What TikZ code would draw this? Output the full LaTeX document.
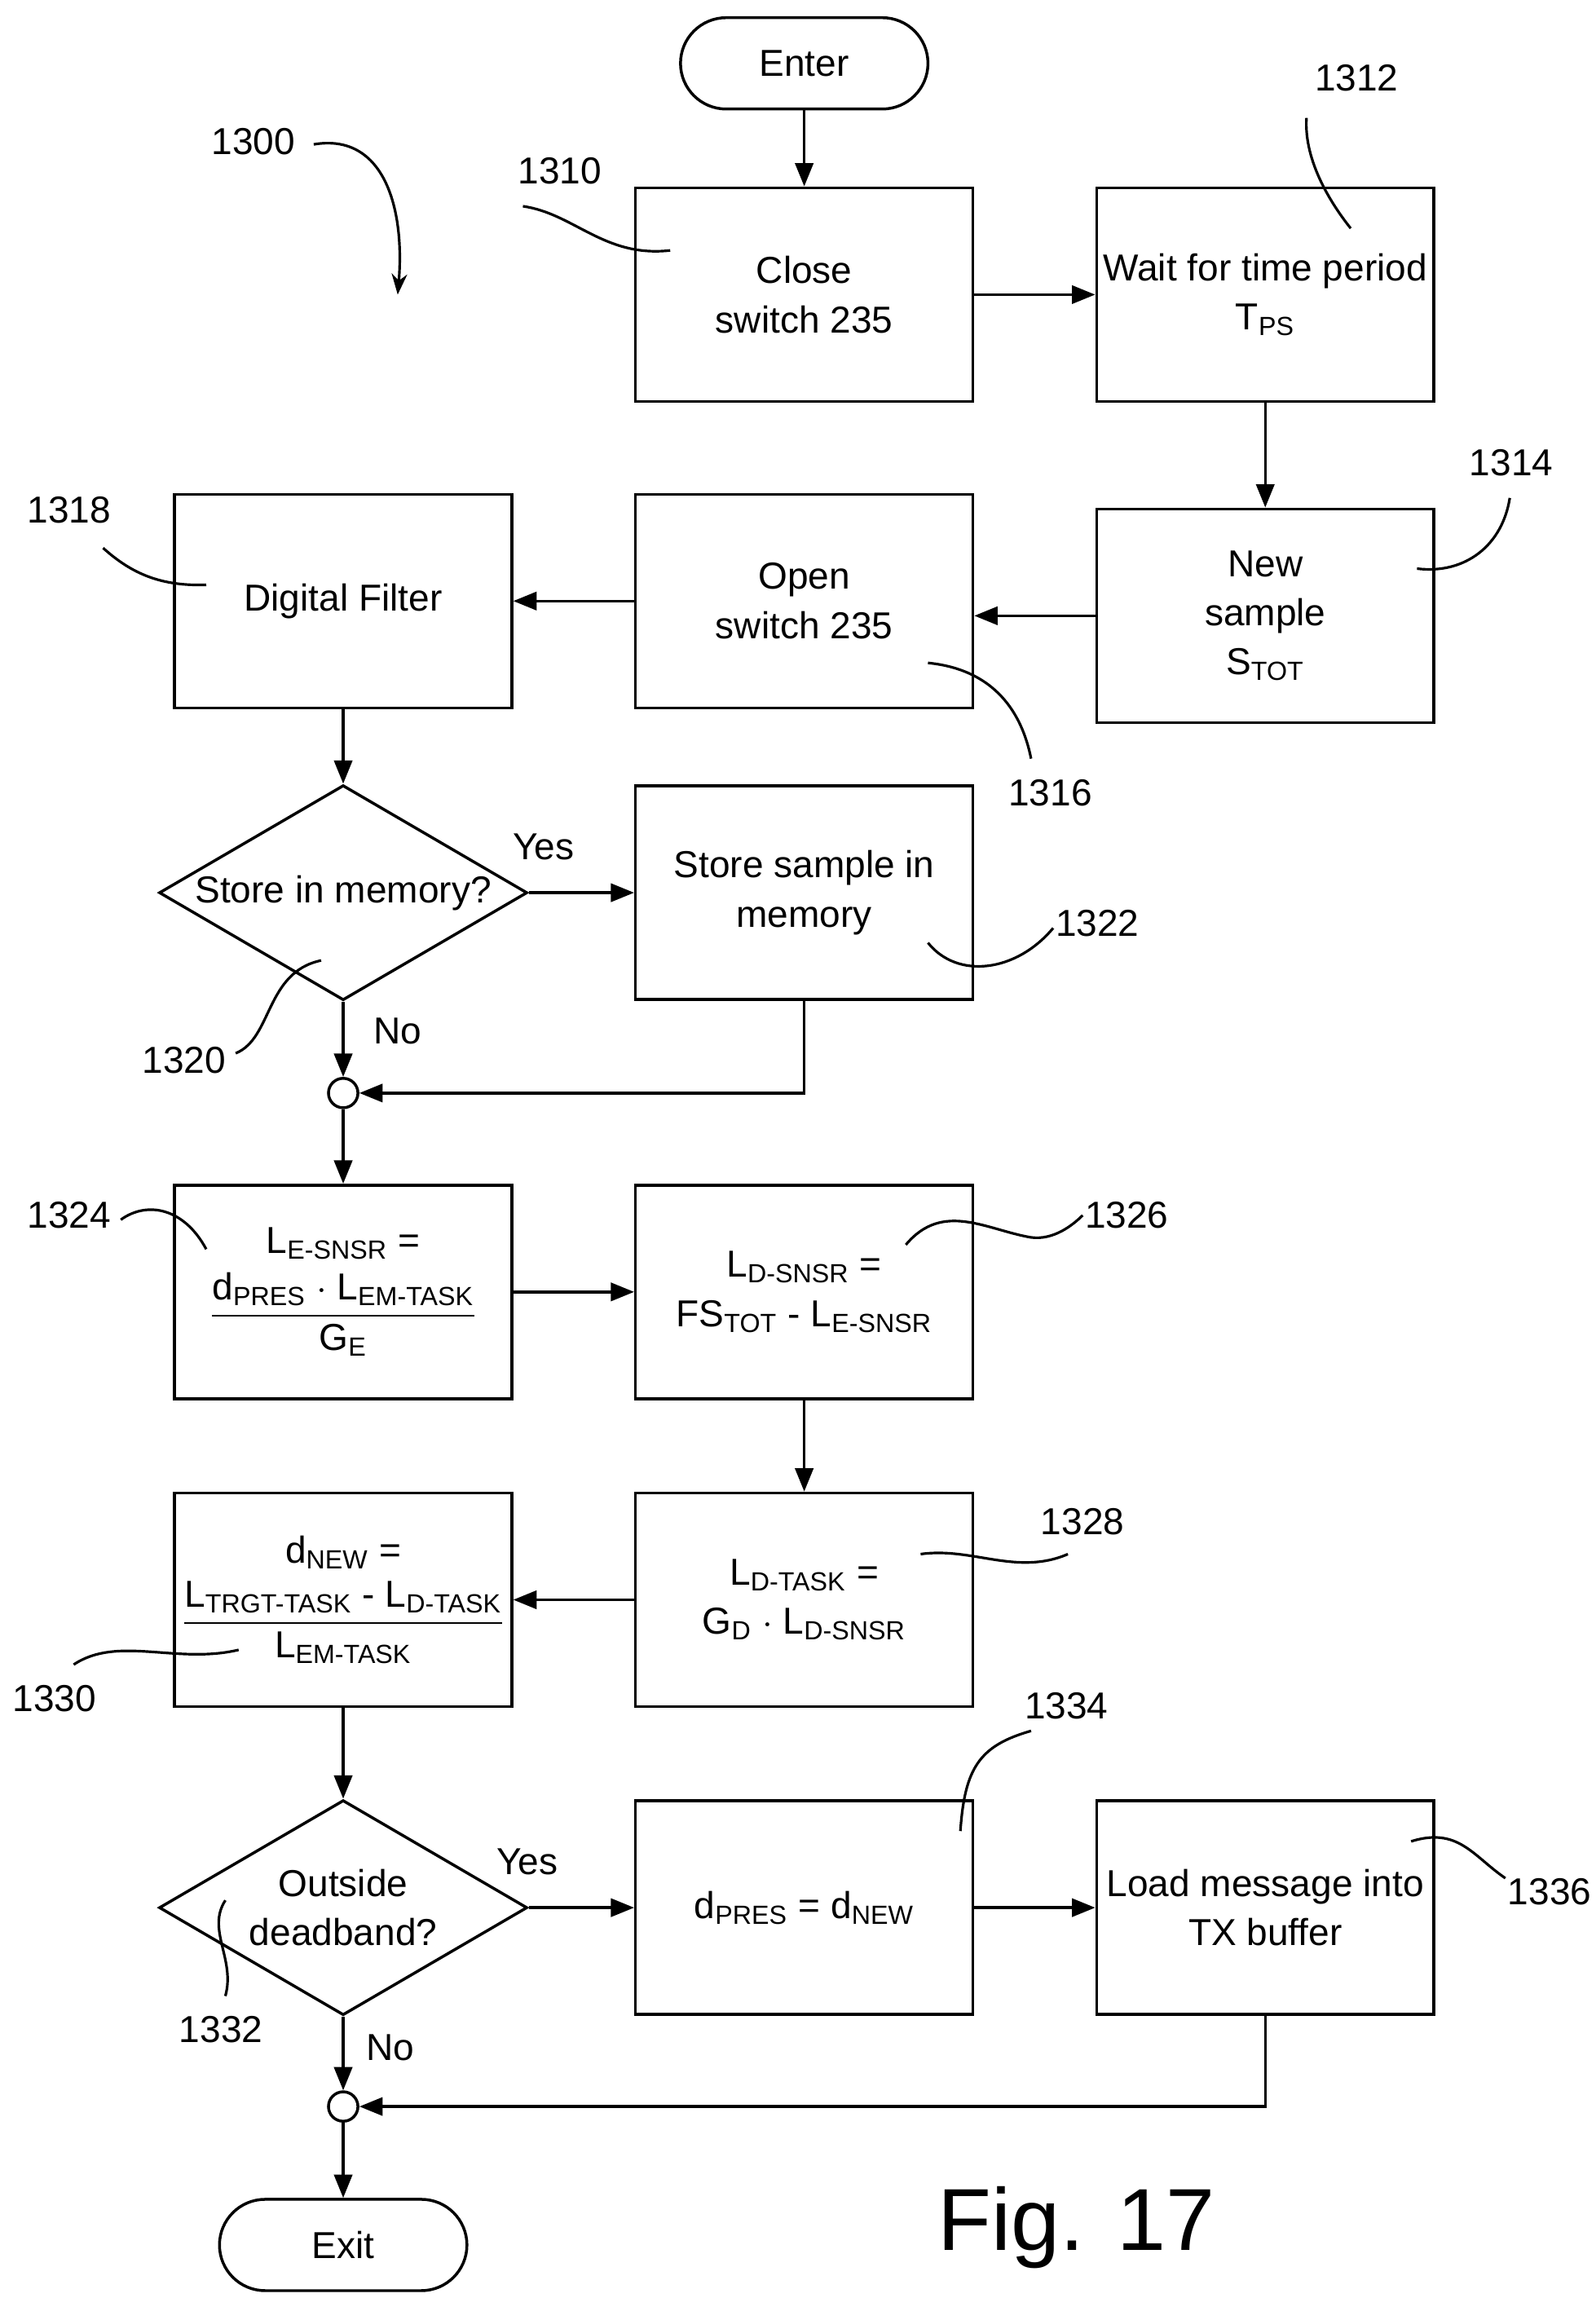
\documentclass[tikz,border=0pt]{standalone}
\usepackage{fontspec}
\usepackage{amsmath}
\setmainfont{Liberation Sans}
\usetikzlibrary{shapes.geometric,arrows.meta}
\begin{document}
\begin{tikzpicture}[x=0.02cm,y=-0.02cm,line width=1.1pt,
  font=\fontsize{14.5}{19}\selectfont,
  box/.style={draw,minimum width=229*0.02cm,minimum height=145*0.02cm,align=center,inner sep=0pt},
  dia/.style={draw,diamond,aspect=1.71,minimum width=250*0.02cm,minimum height=146*0.02cm,inner sep=0pt,align=center},
  pill/.style={draw,rounded corners=31*0.02cm,minimum width=168*0.02cm,minimum height=62*0.02cm},
  junc/.style={draw,circle,minimum size=20*0.02cm,inner sep=0pt},
  arr/.style={-{Triangle[length=9pt,width=7pt]}},
  lead/.style={line width=1pt}]
\useasboundingbox (0,0) rectangle (1083,1560);
\newcommand{\sbs}[1]{\textsubscript{#1}}
\node[pill] (enter) at (546,43) {Enter};
\node[box] (b1310) at (546,200) {Close\\switch 235};
\node[box] (b1312) at (859,200) {Wait for time period\\T\sbs{PS}};
\node[box] (b1314) at (859,418) {New\\sample\\S\sbs{TOT}};
\node[box] (b1316) at (546,408) {Open\\switch 235};
\node[box] (b1318) at (233,408) {Digital Filter};
\node[dia] (d1320) at (233,606) {Store in memory?};
\node[box] (b1322) at (546,606) {Store sample in\\memory};
\node[junc] (j1) at (233,742) {};
\node[box] (b1324) at (233,877) {L\sbs{E-SNSR} =\\[4pt]$\dfrac{\text{d\sbs{PRES} $\cdot$ L\sbs{EM-TASK}}}{\text{G\sbs{E}}}$};
\node[box] (b1326) at (546,877) {L\sbs{D-SNSR} =\\FS\sbs{TOT} - L\sbs{E-SNSR}};
\node[box] (b1328) at (546,1086) {L\sbs{D-TASK} =\\G\sbs{D} $\cdot$ L\sbs{D-SNSR}};
\node[box] (b1330) at (233,1086) {d\sbs{NEW} =\\[4pt]$\dfrac{\text{L\sbs{TRGT-TASK} - L\sbs{D-TASK}}}{\text{L\sbs{EM-TASK}}}$};
\node[dia] (d1332) at (233,1295) {Outside\\deadband?};
\node[box] (b1334) at (546,1295) {d\sbs{PRES} = d\sbs{NEW}};
\node[box] (b1336) at (859,1295) {Load message into\\TX buffer};
\node[junc] (j2) at (233,1430) {};
\node[pill] (exit) at (233,1524) {Exit};
\node[font=\fontsize{34}{40}\selectfont] (fig) at (731,1512) {Fig. 17};

\draw[arr] (enter) -- (b1310);
\draw[arr] (b1310) -- (b1312);
\draw[arr] (b1312) -- (b1314);
\draw[arr] (b1314.west) -- (b1316.east|-b1314.west);
\draw[arr] (b1316) -- (b1318);
\draw[arr] (b1318) -- (d1320);
\draw[arr] (d1320) -- (b1322);
\node (yes1) at (369,575) {Yes};
\draw[arr] (d1320) -- (j1);
\node (no1) at (270,700) {No};
\draw[arr] (b1322.south) |- (j1);
\draw[arr] (j1) -- (b1324);
\draw[arr] (b1324) -- (b1326);
\draw[arr] (b1326) -- (b1328);
\draw[arr] (b1328) -- (b1330);
\draw[arr] (b1330) -- (d1332);
\draw[arr] (d1332) -- (b1334);
\node (yes2) at (358,1264) {Yes};
\draw[arr] (b1334) -- (b1336);
\draw[arr] (d1332) -- (j2);
\node (no2) at (265,1390) {No};
\draw[arr] (b1336.south) |- (j2);
\draw[arr] (j2) -- (exit);

% reference labels
\node (l1300) at (172,96) {1300};
\draw[lead,-{Stealth[length=8pt]}] (213,98) .. controls (260,90) and (275,140) .. (270,200);
\node (l1310) at (380,116) {1310};
\draw[lead] (355,140) .. controls (390,145) and (410,175) .. (455,170);
\node (l1312) at (921,53) {1312};
\draw[lead] (887,80) .. controls (885,110) and (905,140) .. (917,155);
\node (l1314) at (1026,314) {1314};
\draw[lead] (1025,338) .. controls (1020,370) and (995,390) .. (962,386);
\node (l1316) at (713,538) {1316};
\draw[lead] (630,450) .. controls (680,455) and (695,490) .. (700,515);
\node (l1318) at (47,346) {1318};
\draw[lead] (70,372) .. controls (90,390) and (110,398) .. (140,397);
\node (l1320) at (125,720) {1320};
\draw[lead] (160,715) .. controls (185,705) and (180,660) .. (218,652);
\node (l1322) at (745,627) {1322};
\draw[lead] (630,640) .. controls (650,665) and (690,660) .. (715,630);
\node (l1324) at (47,825) {1324};
\draw[lead] (82,828) .. controls (100,815) and (125,820) .. (140,848);
\node (l1326) at (765,825) {1326};
\draw[lead] (615,845) .. controls (640,815) and (670,835) .. (700,840) .. controls (715,842) and (728,832) .. (735,825);
\node (l1328) at (735,1033) {1328};
\draw[lead] (625,1055) .. controls (660,1050) and (690,1070) .. (725,1055);
\node (l1330) at (37,1153) {1330};
\draw[lead] (50,1130) .. controls (80,1110) and (120,1130) .. (162,1120);
\node (l1332) at (150,1378) {1332};
\draw[lead] (153,1290) .. controls (140,1310) and (160,1330) .. (153,1355);
\node (l1334) at (724,1158) {1334};
\draw[lead] (652,1243) .. controls (655,1200) and (665,1185) .. (700,1175);
\node (l1336) at (1052,1284) {1336};
\draw[lead] (958,1250) .. controls (990,1240) and (1000,1260) .. (1022,1275);
\end{tikzpicture}
\end{document}
